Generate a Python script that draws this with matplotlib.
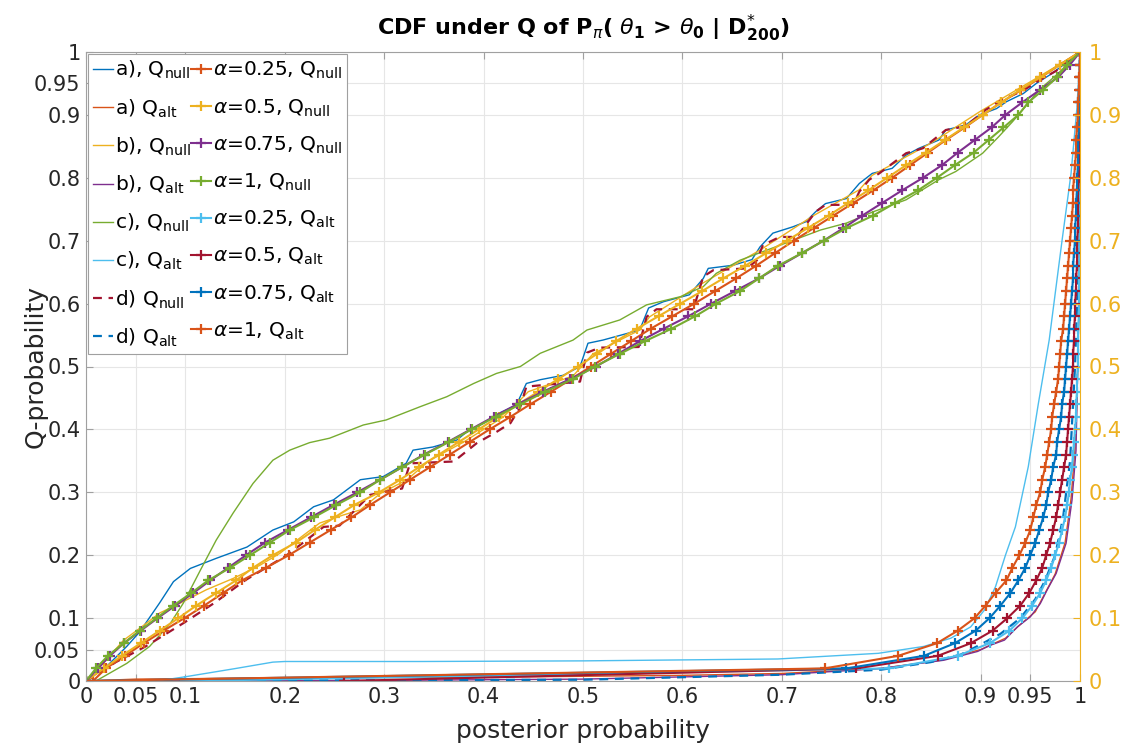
import matplotlib.pyplot as plt
import numpy as np

# MATLAB default colour order
c_blue = "#0072BD"
c_orange = "#D95319"
c_yellow = "#EDB120"
c_purple = "#7E2F8E"
c_green = "#77AC30"
c_cyan = "#4DBEEE"
c_red = "#A2142F"

# ---- curves a) - d) as (x, y) pairs ----
a_null_x = [0, 0.02, 0.041, 0.054, 0.074, 0.088, 0.105, 0.131, 0.162, 0.188, 0.209, 0.229,
            0.249, 0.276, 0.299, 0.322, 0.329, 0.349, 0.373, 0.383, 0.4, 0.416, 0.433, 0.443,
            0.457, 0.48, 0.497, 0.505, 0.52, 0.557, 0.566, 0.581, 0.607, 0.621, 0.626, 0.651,
            0.67, 0.678, 0.691, 0.711, 0.724, 0.734, 0.744, 0.765, 0.778, 0.791, 0.811, 0.825,
            0.838, 0.858, 0.865, 0.885, 0.899, 0.916, 0.926, 0.943, 0.956, 0.972, 1]
a_null_y = [0, 0.022, 0.055, 0.078, 0.124, 0.158, 0.179, 0.195, 0.213, 0.24, 0.253, 0.277,
            0.288, 0.32, 0.325, 0.346, 0.367, 0.372, 0.383, 0.396, 0.41, 0.426, 0.439, 0.473,
            0.479, 0.486, 0.5, 0.537, 0.542, 0.558, 0.593, 0.603, 0.614, 0.64, 0.656, 0.661,
            0.67, 0.69, 0.712, 0.722, 0.73, 0.746, 0.759, 0.767, 0.791, 0.807, 0.815, 0.836,
            0.847, 0.86, 0.876, 0.884, 0.9, 0.91, 0.921, 0.934, 0.95, 0.966, 1]

a_alt_x = [0, 0.05, 0.2, 0.4, 0.6, 0.7, 0.8, 0.86, 0.9, 0.925, 0.94, 0.955, 0.965, 0.975,
           0.985, 0.991, 0.995, 0.997, 0.999, 1]
a_alt_y = [0, 0.003, 0.005, 0.006, 0.009, 0.012, 0.02, 0.033, 0.05, 0.068, 0.09, 0.11, 0.14,
           0.17, 0.22, 0.29, 0.37, 0.45, 0.6, 1]

b_null_x = [0, 0.017, 0.038, 0.061, 0.074, 0.095, 0.121, 0.148, 0.175, 0.195, 0.219, 0.235,
            0.259, 0.276, 0.296, 0.323, 0.345, 0.38, 0.42, 0.445, 0.49, 0.51, 0.557, 0.567,
            0.621, 0.678, 0.732, 0.778, 0.791, 0.85, 0.899, 0.959, 1]
b_null_y = [0, 0.028, 0.065, 0.092, 0.108, 0.124, 0.145, 0.163, 0.184, 0.203, 0.232, 0.251,
            0.264, 0.272, 0.298, 0.32, 0.35, 0.38, 0.42, 0.46, 0.485, 0.52, 0.558, 0.579,
            0.633, 0.685, 0.74, 0.781, 0.804, 0.855, 0.905, 0.961, 1]

b_alt_x = [0, 0.3, 0.5, 0.7, 0.8, 0.863, 0.897, 0.91, 0.924, 0.937, 0.95, 0.96, 0.967, 0.976,
           0.986, 0.992, 0.996, 0.997, 0.999, 1]
b_alt_y = [0, 0.001, 0.003, 0.01, 0.02, 0.033, 0.047, 0.057, 0.065, 0.086, 0.102, 0.123,
           0.145, 0.171, 0.219, 0.288, 0.367, 0.447, 0.6, 1]

c_null_x = [0, 0.01, 0.041, 0.064, 0.085, 0.098, 0.115, 0.131, 0.148, 0.168, 0.188, 0.205,
            0.225, 0.245, 0.279, 0.302, 0.336, 0.363, 0.39, 0.413, 0.437, 0.457, 0.49, 0.504,
            0.537, 0.564, 0.598, 0.621, 0.634, 0.658, 0.685, 0.712, 0.739, 0.765, 0.792,
            0.825, 0.858, 0.875, 0.902, 0.918, 0.932, 0.945, 0.959, 0.976, 1]
c_null_y = [0, 0, 0.028, 0.055, 0.092, 0.124, 0.176, 0.224, 0.267, 0.314, 0.351, 0.367,
            0.379, 0.386, 0.407, 0.415, 0.436, 0.452, 0.473, 0.489, 0.5, 0.521, 0.542, 0.558,
            0.574, 0.598, 0.611, 0.627, 0.648, 0.669, 0.685, 0.701, 0.717, 0.728, 0.746,
            0.765, 0.797, 0.81, 0.839, 0.865, 0.889, 0.913, 0.94, 0.963, 1]

c_alt_x = [0, 0.08, 0.101, 0.151, 0.188, 0.2, 0.336, 0.5, 0.696, 0.797, 0.843, 0.87, 0.89,
           0.904, 0.915, 0.925, 0.935, 0.948, 0.958, 0.969, 0.982, 0.991, 0.997, 1]
c_alt_y = [0, 0.002, 0.007, 0.02, 0.03, 0.031, 0.031, 0.032, 0.035, 0.044, 0.055, 0.068,
           0.086, 0.113, 0.15, 0.2, 0.245, 0.341, 0.44, 0.542, 0.701, 0.807, 0.913, 1]

d_null_x = [0, 0.03, 0.06, 0.098, 0.13, 0.16, 0.202, 0.239, 0.255, 0.286, 0.318, 0.326, 0.37,
            0.393, 0.413, 0.427, 0.437, 0.443, 0.497, 0.504, 0.517, 0.556, 0.564, 0.574,
            0.611, 0.621, 0.631, 0.665, 0.675, 0.681, 0.698, 0.715, 0.734, 0.744, 0.772,
            0.778, 0.788, 0.798, 0.825, 0.842, 0.865, 0.885, 0.905, 0.922, 0.943, 0.959,
            0.976, 1]
d_null_y = [0, 0.03, 0.055, 0.092, 0.125, 0.16, 0.2, 0.245, 0.247, 0.296, 0.306, 0.346, 0.349,
            0.378, 0.396, 0.41, 0.436, 0.468, 0.476, 0.522, 0.53, 0.531, 0.579, 0.591,
            0.591, 0.643, 0.653, 0.656, 0.669, 0.693, 0.706, 0.706, 0.746, 0.757, 0.757,
            0.778, 0.797, 0.807, 0.839, 0.847, 0.876, 0.882, 0.908, 0.924, 0.939, 0.955,
            0.97, 1]

d_alt_x = [0, 0.5, 0.7, 0.8, 0.85, 0.88, 0.9, 0.92, 0.94, 0.955, 0.965, 0.975, 0.983, 0.99,
           0.995, 0.998, 1]
d_alt_y = [0, 0.002, 0.01, 0.018, 0.03, 0.042, 0.058, 0.075, 0.1, 0.13, 0.16, 0.2, 0.26,
           0.35, 0.5, 0.65, 1]

# ---- alpha curves: posterior probability at each CDF level 0, 0.02, ..., 1 ----
q_levels = np.round(np.arange(51) * 0.02, 2)

alpha025_null = [0.007, 0.020, 0.039, 0.058, 0.078, 0.099, 0.119, 0.138, 0.157, 0.181, 0.204,
                 0.225, 0.246, 0.267, 0.286, 0.306, 0.326, 0.346, 0.366, 0.386, 0.406, 0.427,
                 0.447, 0.468, 0.488, 0.508, 0.528, 0.548, 0.568, 0.590, 0.612, 0.633, 0.654,
                 0.674, 0.693, 0.712, 0.732, 0.752, 0.772, 0.792, 0.811, 0.829, 0.847, 0.865,
                 0.884, 0.902, 0.921, 0.941, 0.961, 0.980, 1.000]
alpha05_null = [0.000, 0.018, 0.036, 0.055, 0.074, 0.093, 0.111, 0.131, 0.151, 0.168, 0.188,
                0.211, 0.230, 0.250, 0.270, 0.295, 0.316, 0.335, 0.355, 0.375, 0.395, 0.415,
                0.435, 0.455, 0.475, 0.495, 0.514, 0.533, 0.554, 0.576, 0.598, 0.620, 0.641,
                0.663, 0.684, 0.705, 0.726, 0.747, 0.767, 0.787, 0.806, 0.825, 0.845, 0.864,
                0.883, 0.902, 0.921, 0.940, 0.960, 0.980, 1.000]
alpha075_null = [0.000, 0.012, 0.024, 0.038, 0.055, 0.072, 0.090, 0.108, 0.125, 0.143, 0.161,
                 0.180, 0.203, 0.226, 0.249, 0.273, 0.296, 0.318, 0.340, 0.364, 0.387, 0.410,
                 0.434, 0.460, 0.487, 0.513, 0.535, 0.557, 0.581, 0.606, 0.629, 0.653, 0.677,
                 0.698, 0.720, 0.742, 0.762, 0.781, 0.801, 0.821, 0.842, 0.861, 0.877, 0.894,
                 0.911, 0.925, 0.942, 0.960, 0.978, 0.990, 1.000]
alpha1_null = [0.000, 0.010, 0.022, 0.038, 0.054, 0.071, 0.088, 0.106, 0.123, 0.145, 0.165,
               0.185, 0.205, 0.229, 0.252, 0.276, 0.296, 0.318, 0.341, 0.365, 0.388, 0.412,
               0.437, 0.462, 0.490, 0.512, 0.537, 0.562, 0.589, 0.613, 0.634, 0.658, 0.677,
               0.696, 0.720, 0.742, 0.765, 0.792, 0.814, 0.837, 0.856, 0.874, 0.893, 0.908,
               0.923, 0.938, 0.948, 0.963, 0.977, 0.987, 1.000]

alpha025_alt = [0.100, 0.808, 0.877, 0.909, 0.929, 0.942, 0.952, 0.960, 0.966, 0.971, 0.975,
                0.979, 0.982, 0.985, 0.987, 0.989, 0.990, 0.992, 0.993, 0.994, 0.995, 0.996,
                0.996, 0.997, 0.997, 0.998, 0.998, 0.998, 0.998, 0.999, 0.999, 0.999, 0.999,
                0.999, 0.999, 0.999, 0.999, 1.000, 1.000, 1.000, 1.000, 1.000, 1.000, 1.000,
                1.000, 1.000, 1.000, 1.000, 1.000, 1.000, 1.000]
alpha05_alt = [0.260, 0.775, 0.857, 0.890, 0.912, 0.927, 0.940, 0.949, 0.956, 0.962, 0.966,
               0.970, 0.973, 0.976, 0.978, 0.980, 0.982, 0.984, 0.986, 0.987, 0.988, 0.989,
               0.990, 0.991, 0.992, 0.993, 0.993, 0.994, 0.994, 0.995, 0.995, 0.996, 0.996,
               0.997, 0.997, 0.997, 0.998, 0.998, 0.998, 0.998, 0.999, 0.999, 0.999, 0.999,
               0.999, 1.000, 1.000, 1.000, 1.000, 1.000, 1.000]
alpha075_alt = [0.000, 0.765, 0.843, 0.874, 0.895, 0.909, 0.920, 0.930, 0.938, 0.945, 0.950,
                0.955, 0.959, 0.963, 0.966, 0.968, 0.971, 0.973, 0.976, 0.977, 0.979, 0.981,
                0.982, 0.984, 0.985, 0.986, 0.987, 0.988, 0.989, 0.990, 0.991, 0.992, 0.993,
                0.993, 0.994, 0.995, 0.995, 0.996, 0.996, 0.997, 0.997, 0.998, 0.998, 0.998,
                0.999, 0.999, 0.999, 1.000, 1.000, 1.000, 1.000]
alpha1_alt = [0.000, 0.743, 0.817, 0.856, 0.877, 0.894, 0.905, 0.915, 0.926, 0.932, 0.939,
              0.945, 0.950, 0.953, 0.956, 0.960, 0.962, 0.965, 0.967, 0.969, 0.971, 0.972,
              0.974, 0.976, 0.978, 0.979, 0.980, 0.981, 0.983, 0.984, 0.985, 0.986, 0.987,
              0.988, 0.989, 0.990, 0.991, 0.992, 0.993, 0.993, 0.994, 0.995, 0.996, 0.996,
              0.997, 0.998, 0.998, 0.999, 0.999, 1.000, 1.000]

# tick positions / labels
x_ticks = [0, 0.05, 0.1, 0.2, 0.3, 0.4, 0.5, 0.6, 0.7, 0.8, 0.9, 0.95, 1]
x_tick_labels = ["0", "0.05", "0.1", "0.2", "0.3", "0.4", "0.5", "0.6", "0.7", "0.8",
                 "0.9", "0.95", "1"]
y_ticks = x_ticks
y_tick_labels = x_tick_labels
y2_ticks = [0, 0.1, 0.2, 0.3, 0.4, 0.5, 0.6, 0.7, 0.8, 0.9, 1]
y2_tick_labels = ["0", "0.1", "0.2", "0.3", "0.4", "0.5", "0.6", "0.7", "0.8", "0.9", "1"]

null = r"Q$_{\mathrm{null}}$"
alt = r"Q$_{\mathrm{alt}}$"

fig = plt.figure(figsize=(11.29, 7.46), dpi=100)
ax = fig.add_axes([86 / 1129, 65 / 746, 994 / 1129, 629 / 746])

thin = dict(lw=1.0)
ax.plot(a_null_x, a_null_y, color=c_blue, label="a), " + null, **thin)
ax.plot(a_alt_x, a_alt_y, color=c_orange, label="a) " + alt, **thin)
ax.plot(b_null_x, b_null_y, color=c_yellow, label="b), " + null, **thin)
ax.plot(b_alt_x, b_alt_y, color=c_purple, label="b), " + alt, **thin)
ax.plot(c_null_x, c_null_y, color=c_green, label="c), " + null, **thin)
ax.plot(c_alt_x, c_alt_y, color=c_cyan, label="c), " + alt, **thin)
ax.plot(d_null_x, d_null_y, color=c_red, ls=(0, (4, 3)), lw=1.6, label="d) " + null)
ax.plot(d_alt_x, d_alt_y, color=c_blue, ls=(0, (4, 3)), lw=1.6, label="d) " + alt)

mk = dict(marker="+", ms=7, mew=1.6, lw=1.5)
ax.plot(alpha025_null, q_levels, color=c_orange, label=r"$\alpha$=0.25, " + null, **mk)
ax.plot(alpha05_null, q_levels, color=c_yellow, label=r"$\alpha$=0.5, " + null, **mk)
ax.plot(alpha075_null, q_levels, color=c_purple, label=r"$\alpha$=0.75, " + null, **mk)
ax.plot(alpha1_null, q_levels, color=c_green, label=r"$\alpha$=1, " + null, **mk)
ax.plot(alpha025_alt, q_levels, color=c_cyan, label=r"$\alpha$=0.25, " + alt, **mk)
ax.plot(alpha05_alt, q_levels, color=c_red, label=r"$\alpha$=0.5, " + alt, **mk)
ax.plot(alpha075_alt, q_levels, color=c_blue, label=r"$\alpha$=0.75, " + alt, **mk)
ax.plot(alpha1_alt, q_levels, color=c_orange, label=r"$\alpha$=1, " + alt, **mk)

ax.set_xlim(0, 1)
ax.set_ylim(0, 1)
ax.set_xticks(x_ticks)
ax.set_xticklabels(x_tick_labels)
ax.set_yticks(y_ticks)
ax.set_yticklabels(y_tick_labels)
ax.tick_params(direction="in", top=True, right=False, length=5, width=0.8,
               color="#A0A0A0", labelsize=15, labelcolor="#262626", pad=4)
ax.grid(True, color="#E6E6E6", lw=0.8)
ax.set_axisbelow(True)
for side in ["left", "top", "bottom"]:
    ax.spines[side].set_color("#A0A0A0")
    ax.spines[side].set_linewidth(0.8)
ax.spines["right"].set_visible(False)

ax.set_xlabel("posterior probability", fontsize=18, color="#262626", labelpad=9)
ax.set_ylabel("Q-probability", fontsize=18, color="#262626")
# MATLAB puts the y label over the short tick labels
ax.yaxis.set_label_coords(-0.039, 0.5)
ax.set_title(r"CDF under Q of P$_{\pi}$( $\theta_{\mathbf{1}}$ > $\theta_{\mathbf{0}}$ | "
             r"D$^{*}_{\mathbf{200}}$)", fontsize=16, fontweight="bold", pad=12)

# right hand axis in the third colour
ax2 = ax.twinx()
ax2.set_ylim(0, 1)
ax2.set_yticks(y2_ticks)
ax2.set_yticklabels(y2_tick_labels)
ax2.tick_params(direction="in", length=5, width=0.8, color=c_yellow, labelsize=15,
                labelcolor=c_yellow, pad=6)
for side in ["left", "top", "bottom"]:
    ax2.spines[side].set_visible(False)
ax2.spines["right"].set_color(c_yellow)
ax2.spines["right"].set_linewidth(0.8)

leg = ax.legend(loc="upper left", ncol=2, fontsize=14.5, bbox_to_anchor=(0, 1),
                borderaxespad=0.1, handlelength=1.0, handletextpad=0.1,
                columnspacing=0.0, labelspacing=0.79, borderpad=0.25,
                fancybox=False, framealpha=1, edgecolor="#A0A0A0")
leg.get_frame().set_linewidth(0.8)
leg.set_zorder(10)

plt.savefig("out.png", dpi=100)
plt.close()
